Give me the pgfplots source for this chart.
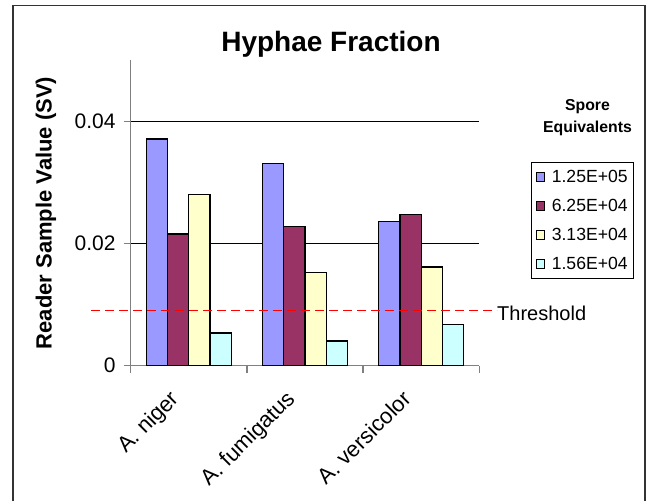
\documentclass[border=0pt]{standalone}
\usepackage{pgfplots}
\pgfplotsset{compat=1.18}
\usepackage{fontspec}
\setmainfont{Liberation Sans}
\definecolor{cblue}{HTML}{9999FF}
\definecolor{cmaroon}{HTML}{993366}
\definecolor{cyellow}{HTML}{FFFFCC}
\definecolor{ccyan}{HTML}{CCFFFF}
\definecolor{axgrey}{HTML}{808080}
\begin{document}
\begin{tikzpicture}[x=1bp,y=1bp]
\useasboundingbox (0,0) rectangle (650,501);
\fill[white] (0,0) rectangle (650,501);
\draw[line width=1.8bp, color=black!80] (13,-5) -- (13,495.5) -- (645,495.5) -- (645,-5);
\begin{axis}[
  at={(130.7bp,135.3bp)}, anchor=south west,
  scale only axis, width=348.6bp, height=305.5bp,
  xmin=0, xmax=3, ymin=0, ymax=0.05,
  clip=false,
  scaled y ticks=false,
  axis x line*=bottom, axis y line*=left,
  axis line style={axgrey, line width=1.3bp, -},
  tick align=outside, major tick length=7bp,
  tick style={axgrey, line width=1.3bp},
  minor tick num=0,
  xtick={0,1,2,3}, xticklabels={},
  extra x ticks={0.5,1.5,2.5},
  extra x tick labels={A. niger, A. fumigatus, A. versicolor},
  extra x tick style={major tick length=0pt,
    xticklabel style={xshift=-20bp, yshift=-23bp, rotate=45, anchor=north east, inner sep=0pt,
      font=\fontsize{22bp}{26bp}\selectfont}},
  ytick={0,0.02,0.04}, yticklabels={0,0.02,0.04},
  yticklabel style={anchor=east, inner sep=0pt, xshift=-8bp, font=\fontsize{21bp}{25bp}\selectfont},
  ymajorgrids, grid style={black, line width=1bp},
  ylabel={\bfseries Reader Sample Value (SV)},
  every axis y label/.style={at={(axis description cs:-0.243,0.4998)}, rotate=90, anchor=center,
    font=\fontsize{22bp}{26bp}\selectfont},
  ybar=0pt,
  legend image code/.code={\draw[#1, line width=0.8bp] (0bp,-4.5bp) rectangle (8bp,4.5bp);},
  legend style={at={(axis description cs:1.1483,0.6678)}, anchor=north west,
    draw=black, line width=1bp, font=\fontsize{17.6bp}{20bp}\selectfont,
    row sep=12.1bp, column sep=6bp, inner xsep=4bp, inner ysep=6.5bp,
    nodes={inner sep=1.5bp}},
  legend cell align=left,
]
\addplot[fill=cblue, draw=black, line width=1.2bp, bar width=21.25bp, bar shift=-31.9bp]
  coordinates {(0.5,0.0371) (1.5,0.0331) (2.5,0.0236)};
\addplot[fill=cmaroon, draw=black, line width=1.2bp, bar width=21.25bp, bar shift=-10.6bp]
  coordinates {(0.5,0.02155) (1.5,0.02275) (2.5,0.0247)};
\addplot[fill=cyellow, draw=black, line width=1.2bp, bar width=21.25bp, bar shift=10.6bp]
  coordinates {(0.5,0.02805) (1.5,0.01528) (2.5,0.01615)};
\addplot[fill=ccyan, draw=black, line width=1.2bp, bar width=21.25bp, bar shift=31.9bp]
  coordinates {(0.5,0.00535) (1.5,0.00404) (2.5,0.00671)};
\legend{1.25E+05, 6.25E+04, 3.13E+04, 1.56E+04}
\addplot[sharp plot, red, line width=1.3bp, dash pattern=on 9bp off 5bp, forget plot]
  coordinates {(-0.342,0.009) (3.152,0.009)};
\end{axis}
\node[anchor=base, inner sep=0pt, font=\fontsize{28bp}{32bp}\selectfont\bfseries] at (331,449.3) {Hyphae Fraction};
\node[align=center, inner sep=0pt, font=\fontsize{15.8bp}{21.6bp}\selectfont\bfseries] at (587.5,383.5) {Spore\\Equivalents};
\node[anchor=base west, inner sep=0pt, font=\fontsize{20bp}{24bp}\selectfont] at (497,180.7) {Threshold};
\end{tikzpicture}
\end{document}
